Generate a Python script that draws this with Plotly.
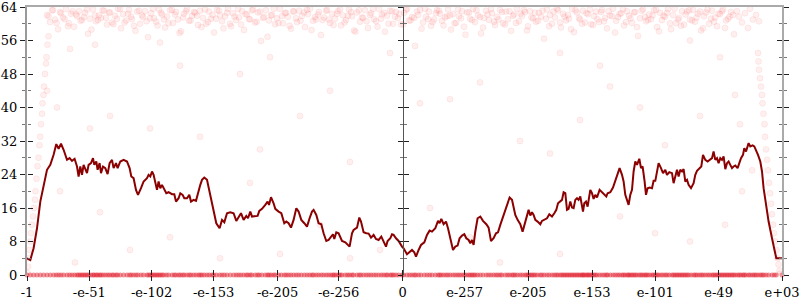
import plotly.graph_objects as go

# ---------------- data ----------------
tick_labels = ["-1", "-e-51", "-e-102", "-e-153", "-e-205", "-e-256", "0",
               "e-257", "e-205", "e-153", "e-101", "e-49", "e+03"]
tick_pos = [0, 62.3, 124.6, 186.6, 250.6, 311.6, 375.6, 437.6, 501, 565, 628.3, 691.6, 755]
y_ticks = [0, 8, 16, 24, 32, 40, 48, 56, 64]

# moving average line (x in axis units, y = bits)
avg_points = [
    (0, 3.99), (3.3, 3.59), (6.6, 6.38), (10, 11.16), (13.3, 17.54), (16.6, 21.53), (20, 25.12),
    (23.3, 26.31), (26.6, 28.7), (29.3, 31.26), (31.6, 30.14), (34, 31.34), (36.6, 29.9), (40, 27.5),
    (42.6, 27.9), (45, 27.27), (47.6, 27.75), (50, 25.91), (51.6, 23.52), (53.3, 25.91), (55, 23.92),
    (56.6, 26.31), (58.3, 25.12), (60, 24.32), (61.6, 26.31), (64, 26.71), (66, 27.9), (67.3, 26.31),
    (69.3, 27.11), (70.6, 25.12), (72.6, 26.71), (74, 24.32), (76, 25.91), (78.3, 25.52), (80.6, 24.08),
    (82.6, 26.71), (85, 27.5), (86.6, 25.52), (89, 26.71), (90.6, 25.52), (93.3, 27.11), (96.6, 27.5),
    (100, 27.11), (102.6, 25.52), (104.3, 23.52), (106.6, 23.12), (109, 20.33), (111, 19.14), (114, 20.73),
    (116.6, 22.33), (120, 23.12), (121.6, 23.92), (123.3, 23.52), (125, 24.72), (126.6, 23.92),
    (128.3, 22.33), (130, 20.33), (131.6, 22.33), (133.3, 20.73), (135, 21.53), (136.6, 20.73),
    (139.3, 19.53), (141.6, 19.77), (145, 19.3), (147.3, 19.3), (149, 17.54), (151.6, 18.34),
    (153.3, 19.53), (155.6, 19.14), (157.3, 18.34), (160, 18.34), (162.3, 19.14), (164, 17.54),
    (166.6, 17.94), (169, 17.7), (171.6, 20.33), (173.3, 21.53), (175, 22.72), (177.3, 23.28),
    (180, 22.72), (182.3, 20.33), (185, 17.54), (186.6, 15.95), (189.3, 12.36), (192.6, 11.16),
    (195, 13.16), (197.3, 12.6), (200, 14.75), (203.3, 14.99), (206.6, 14.75), (209.3, 12.92),
    (211.6, 13.71), (214, 14.75), (216.6, 13.16), (219.3, 14.11), (221, 13.55), (223.3, 15.15),
    (225, 13.95), (228.3, 13.95), (230.6, 14.11), (232.3, 15.31), (235, 15.79), (238.3, 16.74),
    (240.6, 17.54), (242, 16.74), (244, 18.58), (246.6, 17.14), (248.3, 15.79), (251.6, 15.15),
    (254.3, 14.75), (257.3, 12.36), (259.3, 12.76), (261.6, 12.36), (264, 11.32), (266.6, 13.16),
    (269.3, 15.95), (271.6, 15.15), (274.3, 13.16), (277.3, 12.36), (280, 11.56), (282.6, 13.55),
    (285, 15.15), (286.6, 15.55), (289.3, 14.35), (291.6, 12.36), (294.3, 12.12), (296.6, 9.97),
    (299.3, 8.13), (301.6, 8.37), (304, 9.17), (306, 9.73), (307.3, 8.61), (309.3, 10.2), (311.6, 9.97),
    (313.3, 9.17), (315, 8.13), (318.3, 7.81), (320.6, 7.17), (322.6, 6.78), (325, 9.97), (326.6, 10.76),
    (330, 11.32), (332.3, 13.71), (334, 12.76), (336.6, 10.2), (339.3, 9.97), (341.6, 9.89), (344, 8.93),
    (346.6, 9.57), (349, 8.61), (351.6, 8.37), (354.3, 9.17), (356.6, 7.81), (359, 6.78), (360.6, 8.13),
    (363.3, 8.77), (365, 9.73), (366.6, 9.57), (369, 8.77), (371.6, 8.13), (375, 6.78), (376.6, 6.38),
    (380, 4.94), (382.6, 5.58), (385, 5.98), (387.3, 5.42), (389, 4.38), (391.6, 5.98), (394, 7.17),
    (397.3, 7.81), (400, 9.57), (402.6, 10.6), (405, 10.36), (408.3, 11.16), (411, 12.92), (412.6, 12.36),
    (414.3, 13.39), (416.6, 12.12), (419, 12.76), (421, 11.16), (423.3, 8.77), (426, 5.98), (428.3, 6.78),
    (430.6, 7.02), (432.6, 8.77), (435, 9.41), (437.3, 9.73), (439.3, 8.77), (441.6, 8.37), (443.3, 7.57),
    (445, 8.37), (446.6, 7.17), (448.3, 10.36), (450.6, 13.55), (453.3, 13.95), (456, 12.92),
    (459.3, 12.12), (461.6, 11.32), (464, 8.13), (466.6, 8.77), (469, 9.97), (471, 10.2), (473.3, 11.96),
    (475, 13.16), (478.3, 15.55), (480.6, 16.74), (482.6, 18.5), (485, 17.94), (486.6, 16.34),
    (488.3, 14.35), (490.6, 13.16), (493.3, 12.12), (495.6, 10.36), (498.3, 12.76), (500, 13.95),
    (501.6, 15.55), (503.3, 14.19), (505, 14.99), (506.6, 14.35), (508.3, 13.16), (510.6, 12.76),
    (513.3, 12.12), (515, 12.92), (517.3, 13.16), (520, 13.55), (522.3, 14.51), (525, 13.95),
    (527.3, 14.75), (529.3, 15.55), (531, 17.14), (533.3, 17.54), (535, 17.94), (536.6, 19.77),
    (538.3, 19.53), (540, 15.55), (541.6, 15.79), (543.3, 17.54), (545, 16.1), (546.6, 15.95),
    (548.3, 17.94), (550, 18.34), (551.6, 17.94), (553.3, 18.74), (555, 16.74), (556, 15.15),
    (557.3, 17.14), (559, 17.54), (560.6, 16.34), (561.6, 17.94), (563.3, 20.33), (565, 19.53),
    (566.6, 18.18), (568.3, 19.14), (570, 18.5), (572.6, 20.33), (575, 19.77), (577.3, 19.14),
    (579.3, 18.74), (580.6, 19.53), (583.3, 19.77), (586, 20.89), (588.3, 22.33), (590.6, 24.08),
    (592.6, 25.52), (595, 23.92), (596.6, 22.33), (598.3, 19.14), (600.6, 17.54), (601.6, 16.74),
    (603.3, 19.14), (605, 20.33), (606.6, 24.72), (608.3, 27.11), (610, 26.31), (612.3, 27.75),
    (614, 25.52), (615.6, 25.91), (617.6, 22.33), (619, 19.14), (620.6, 20.73), (622.6, 20.89),
    (625, 20.73), (626.6, 22.49), (628.3, 22.49), (630, 24.72), (631.6, 26.71), (634, 25.52),
    (636, 24.32), (638.3, 25.12), (640, 23.92), (642.3, 24.56), (645, 24.32), (646.6, 21.93),
    (648.3, 23.92), (650, 25.12), (651.6, 23.52), (653.3, 25.12), (655, 24.72), (656.6, 25.28),
    (658.3, 22.33), (660, 22.72), (661.6, 21.53), (664, 20.73), (666.6, 21.93), (668.3, 23.92),
    (670, 24.88), (672.3, 25.52), (674.3, 25.91), (676, 28.7), (678.3, 27.5), (680.6, 27.11),
    (682.6, 27.5), (685, 27.9), (686.6, 29.5), (688.3, 27.5), (690, 27.9), (691.6, 26.71), (693.3, 27.9),
    (695, 27.5), (696.6, 28.31), (698.3, 25.28), (700, 26.71), (701.6, 27.11), (703.3, 26.31),
    (705, 25.52), (706.6, 25.91), (708.3, 26.15), (710.6, 25.52), (712.3, 26.71), (714, 27.9),
    (716, 28.7), (717.3, 30.3), (719, 29.5), (721.6, 31.5), (723.3, 30.7), (725.6, 30.94), (727.3, 30.7),
    (729, 29.9), (731, 28.7), (733.3, 27.11), (735, 24.72), (736.6, 20.73), (739, 16.74), (741.6, 12.76),
    (745, 8.77), (747.3, 5.98), (749.3, 3.99), (755, 3.99),
]
avg_x = [p[0] for p in avg_points]
avg_y = [p[1] for p in avg_points]

# samples that scored zero (one per averaging position)
zero_x = avg_x
zero_y = [0] * len(zero_x)

# samples near the top of the range
top_x = [20, 23, 25, 28, 31, 33, 36, 39, 42, 44, 47, 50, 52, 55, 58, 61, 63, 66, 69, 72, 74, 77, 80, 83,
         85, 88, 91, 94, 96, 99, 102, 105, 107, 110, 113, 116, 118, 121, 124, 127, 129, 132, 135, 138,
         140, 143, 146, 149, 151, 154, 157, 160, 162, 165, 168, 171, 173, 176, 179, 182, 184, 187, 190,
         193, 195, 198, 201, 204, 206, 209, 212, 215, 217, 220, 223, 226, 228, 231, 234, 237, 239, 242,
         245, 248, 250, 253, 256, 259, 261, 264, 267, 270, 272, 275, 278, 281, 283, 286, 289, 292, 294,
         297, 300, 303, 305, 308, 311, 314, 316, 319, 322, 325, 327, 330, 333, 336, 338, 341, 344, 347,
         349, 352, 355, 358, 360, 363, 366, 369, 371, 374, 377, 380, 382, 385, 388, 391, 393, 396, 399,
         402, 404, 407, 410, 413, 415, 418, 421, 424, 426, 429, 432, 435, 437, 440, 443, 446, 448, 451,
         454, 457, 459, 462, 465, 468, 470, 473, 476, 479, 481, 484, 487, 490, 492, 495, 498, 501, 503,
         506, 509, 512, 514, 517, 520, 523, 525, 528, 531, 534, 536, 539, 542, 545, 547, 550, 553, 556,
         558, 561, 564, 567, 569, 572, 575, 578, 580, 583, 586, 589, 591, 594, 597, 600, 602, 605, 608,
         611, 613, 616, 619, 622, 624, 627, 630, 633, 635, 638, 641, 644, 646, 649, 652, 655, 657, 660,
         663, 666, 668, 671, 674, 677, 679, 682, 685, 688, 690, 693, 696, 699, 701, 704, 707, 710, 712,
         715, 718, 721, 723, 726, 729, 732]
top_y = [62.1, 60.4, 63.2, 61.0, 58.7, 62.8, 61.5, 63.5, 60.1, 62.4, 59.3, 61.8, 63.0, 60.9, 62.6, 57.6, 61.2, 63.4, 60.6, 62.0,
         61.4, 63.1, 59.8, 62.7, 60.3, 61.9, 63.6, 58.9, 62.3, 60.8, 63.3, 61.1, 59.5, 62.9, 60.0, 61.6, 63.0, 56.8, 62.5, 61.3,
         60.5, 63.4, 62.2, 59.1, 61.7, 63.2, 60.2, 62.8, 61.0, 58.2, 62.4, 63.5, 60.7, 61.9, 62.6, 59.7, 63.1, 61.4, 60.0, 62.9,
         61.2, 57.9, 63.3, 62.0, 60.6, 61.8, 63.6, 59.4, 62.5, 60.9, 61.5, 63.0, 58.5, 62.2, 61.1, 63.4, 60.3, 62.7, 55.9, 61.6,
         63.2, 60.8, 62.1, 59.9, 61.3, 63.5, 60.1, 62.6, 61.7, 58.8, 62.9, 60.4, 63.1, 61.9, 59.2, 62.3, 63.6, 60.7, 61.0, 62.8,
         57.3, 61.5, 63.3, 60.2, 62.4, 61.2, 63.0, 59.6, 62.0, 60.9, 63.4, 61.8, 58.4, 62.7, 60.5, 61.4, 63.2, 59.0, 62.5, 61.1,
         60.6, 63.5, 62.2, 58.1, 61.9, 63.1, 60.0, 62.8, 61.3, 59.8, 62.6, 63.6, 60.8, 61.6, 54.7, 62.1, 63.3, 60.3, 61.7, 62.9,
         59.5, 61.0, 63.2, 62.4, 60.7, 61.5, 63.4, 58.6, 62.3, 60.2, 61.8, 63.0, 59.3, 62.7, 61.2, 63.5, 60.4, 62.0, 57.7, 61.4,
         63.1, 60.9, 62.5, 59.7, 61.6, 63.3, 60.1, 62.9, 61.1, 58.3, 62.2, 63.6, 60.6, 61.9, 62.8, 59.4, 63.0, 61.3, 60.5, 62.6,
         61.7, 56.4, 63.4, 62.1, 60.0, 61.5, 63.2, 59.1, 62.4, 60.8, 61.2, 63.5, 58.0, 62.7, 61.0, 63.1, 60.3, 62.3, 59.9, 61.8,
         62.9, 60.4, 63.3, 61.4, 58.9, 62.0, 63.6, 60.7, 61.6, 62.5, 59.6, 63.0, 61.9, 60.2, 62.8, 57.1, 61.3, 63.4, 60.6, 62.2,
         61.1, 63.2, 59.2, 62.6, 60.9, 61.7, 63.5, 58.7, 62.1, 60.1, 61.4, 63.0, 59.8, 62.9, 61.0, 63.3, 60.5, 62.4, 58.4, 61.8,
         62.7, 60.0, 63.1, 61.5, 59.4, 62.3, 63.4, 60.8, 61.2, 62.8, 57.5, 63.0, 61.7, 60.3, 62.5, 59.0, 63.6, 61.0, 62.1, 60.6]

# a second batch of top samples, interleaved with the first
top2_x = [21.5, 26, 29.5, 34, 37.5, 41, 45.5, 49, 53.5, 57, 60, 64.5, 68, 71, 75.5, 79, 82, 86.5, 90, 93,
          97.5, 101, 104, 108.5, 112, 115, 119.5, 123, 126, 130.5, 134, 137, 141.5, 145, 148, 152.5, 156,
          159, 163.5, 167, 170, 174.5, 178, 181, 185.5, 189, 192, 196.5, 200, 203, 207.5, 211, 214, 218.5,
          222, 225, 229.5, 233, 236, 240.5, 244, 247, 251.5, 255, 258, 262.5, 266, 269, 273.5, 277, 280,
          284.5, 288, 291, 295.5, 299, 302, 306.5, 310, 313, 317.5, 321, 324, 328.5, 332, 335, 339.5, 343,
          346, 350.5, 354, 357, 361.5, 365, 368, 372.5, 376, 379, 383.5, 387, 390, 394.5, 398, 401, 405.5,
          409, 412, 416.5, 420, 423, 427.5, 431, 434, 438.5, 442, 445, 449.5, 453, 456, 460.5, 464, 467,
          471.5, 475, 478, 482.5, 486, 489, 493.5, 497, 500, 504.5, 508, 511, 515.5, 519, 522, 526.5, 530,
          533, 537.5, 541, 544, 548.5, 552, 555, 559.5, 563, 566, 570.5, 574, 577, 581.5, 585, 588, 592.5,
          596, 599, 603.5, 607, 610, 614.5, 618, 621, 625.5, 629, 632, 636.5, 640, 643, 647.5, 651, 654,
          658.5, 662, 665, 669.5, 673, 676, 680.5, 684, 687, 691.5, 695, 698, 702.5, 706, 709, 713.5, 717,
          720, 724.5, 728, 731]
top2_y = [61.8, 63.3, 60.2, 62.5, 61.1, 59.4, 63.0, 62.2, 60.7, 61.6, 63.4, 58.6, 62.0, 60.9, 63.2, 61.4, 62.7, 59.9, 61.2, 63.5,
          60.3, 62.4, 61.7, 58.3, 63.1, 62.0, 60.6, 61.3, 63.6, 59.6, 62.6, 61.0, 60.1, 63.3, 62.2, 57.8, 61.5, 63.0, 60.8, 62.8,
          61.9, 59.2, 63.4, 60.4, 62.1, 61.2, 63.1, 58.9, 62.6, 60.0, 61.7, 63.5, 59.8, 62.3, 61.1, 63.2, 60.5, 62.9, 61.4, 56.9,
          62.0, 63.6, 60.2, 61.8, 62.5, 59.5, 63.0, 61.3, 60.7, 62.7, 63.3, 58.5, 61.6, 62.2, 60.9, 63.1, 61.0, 59.7, 62.4, 63.4,
          60.3, 61.9, 62.8, 58.1, 63.2, 61.5, 60.6, 62.1, 63.5, 59.3, 61.2, 62.6, 60.0, 63.0, 61.7, 62.3, 59.9, 63.3, 60.8, 61.4,
          62.9, 58.8, 63.6, 61.1, 60.4, 62.5, 63.1, 59.6, 61.8, 62.0, 60.1, 63.4, 61.3, 57.4, 62.7, 60.9, 63.2, 61.6, 59.1, 62.2,
          63.5, 60.5, 61.0, 62.8, 59.8, 63.0, 61.9, 60.2, 62.4, 63.3, 58.4, 61.5, 62.6, 60.7, 63.1, 61.2, 59.4, 62.9, 63.6, 60.3,
          61.7, 62.1, 58.7, 63.2, 61.4, 60.0, 62.5, 63.4, 59.7, 61.1, 62.8, 60.6, 63.0, 61.8, 57.9, 62.3, 63.5, 60.4, 61.3, 62.7,
          59.2, 63.1, 61.6, 60.9, 62.0, 63.3, 58.2, 61.9, 62.6, 60.1, 63.6, 61.0, 59.5, 62.2, 63.2, 60.8, 61.5, 62.9, 58.9, 63.4,
          61.2, 60.5, 62.4, 63.0, 59.0, 61.7, 62.1]

# transition samples at both ends
left_streak_x = [0.5, 1, 1.5, 2.5, 3.3, 4, 5, 6, 7, 8, 8.5, 9.5, 10.5, 11.5, 12.5, 13.2, 14, 15, 15.5, 16.5,
                 17, 18, 19, 19.5, 20.5, 21.5]
left_streak_y = [0.5, 2, 4, 6, 8, 10, 12, 14, 16, 18, 20, 23, 26, 28, 31, 33, 36, 38.5, 41, 43, 45, 48, 50.5,
                 52, 55, 57]
right_streak_x = [731, 731.5, 732, 733, 734, 735, 735.5, 736.5, 737.5, 738, 739, 740, 741, 742, 743, 744, 745,
                  746, 747, 748, 749.5, 750.5, 751.5, 752.5, 753]
right_streak_y = [53, 51, 49, 47, 45, 43, 41, 38.5, 36, 33, 30, 27.5, 25, 22, 19.5, 17, 14.5, 12, 10, 8, 6, 4,
                  2.5, 1, 0.3]

# scattered outlier samples
sparse_x = [43, 68, 133, 153, 213, 303, 273, 83, 123, 173, 233, 323, 393, 423, 453, 493, 523, 553, 583, 613,
            638, 673, 708, 713, 698, 663, 628, 593, 533, 473, 443, 403, 353, 323, 293, 253, 223, 193, 143, 103,
            73, 48, 33, 63, 243, 363, 533, 663, 573, 693, 20, 30, 715, 725]
sparse_y = [54, 55, 55.5, 50, 48, 44, 38, 38, 35, 33, 30, 27, 41, 42, 46, 32, 29, 37, 45, 40,
            31, 38, 43, 36, 12, 8, 10, 14, 5, 3, 9, 16, 6, 4, 12, 5, 22, 4, 9, 6,
            15, 3, 20, 35, 52, 53, 53, 56, 50, 52, 44, 40, 20, 25]

# ---------------- figure ----------------
pt_fill = "rgba(255,40,40,0.075)"
pt_edge = "rgba(240,40,40,0.07)"
pt_marker = dict(size=6, color=pt_fill, line=dict(width=1, color=pt_edge))

fig = go.Figure()
fig.add_trace(go.Scatter(x=zero_x, y=zero_y, mode="markers", cliponaxis=False, hoverinfo="skip",
                         marker=dict(size=5, color="rgba(225,25,40,0.45)", line=dict(width=0))))
for sx, sy in ((top_x, top_y), (top2_x, top2_y), (left_streak_x, left_streak_y),
               (right_streak_x, right_streak_y), (sparse_x, sparse_y)):
    fig.add_trace(go.Scatter(x=sx, y=sy, mode="markers", hoverinfo="skip", marker=pt_marker))
fig.add_trace(go.Scatter(x=avg_x, y=avg_y, mode="lines", hoverinfo="skip",
                         line=dict(color="#8b0000", width=2)))

# empty traces so that the helper axes exist
for xa, ya in (("x2", "y"), ("x3", "y"), ("x", "y2"), ("x", "y3"), ("x", "y4"), ("x", "y5"), ("x", "y6")):
    fig.add_trace(go.Scatter(x=[None], y=[None], xaxis=xa, yaxis=ya, mode="lines", hoverinfo="skip"))

xr = [0, 755]
yr = [0, 64]
common = dict(showgrid=False, zeroline=False, automargin=False)
major = dict(ticklen=5, tickwidth=1, tickcolor="#222")
minor_out = dict(ticks="outside", dtick=4, tick0=0, ticklen=3, tickcolor="#777", showgrid=False)
minor_in = dict(ticks="inside", dtick=4, tick0=0, ticklen=3, tickcolor="#777", showgrid=False)
mid_pos = tick_pos[6] / xr[1]

fig.update_layout(
    template="none",
    width=800, height=300,
    margin=dict(l=26.7, r=18.3, t=7.3, b=25, pad=0),
    plot_bgcolor="white", paper_bgcolor="white",
    showlegend=False,
    font=dict(family="'DejaVu Serif', 'Liberation Serif', serif", size=13, color="black"),
    xaxis=dict(range=xr, tickmode="array", tickvals=tick_pos, ticktext=tick_labels, ticks="outside",
               showline=False, ticklabeloverflow="allow", **common, **major),
    xaxis2=dict(range=xr, overlaying="x", anchor="y", tickmode="array", tickvals=tick_pos, ticks="inside",
                showticklabels=False, showline=False, **common, **major),
    xaxis3=dict(range=xr, overlaying="x", anchor="y", side="top", ticks="", showticklabels=False,
                showline=True, linecolor="#aaaaaa", linewidth=2, **common),
    yaxis=dict(range=yr, tickmode="array", tickvals=y_ticks, ticks="outside", minor=minor_out,
               ticklabeloverflow="allow",
               showline=True, linecolor="#999999", linewidth=2, **common, **major),
    yaxis2=dict(range=yr, overlaying="y", anchor="free", position=0, side="left", tickmode="array",
                tickvals=y_ticks, ticks="inside", minor=minor_in, showticklabels=False, showline=False,
                **common, **major),
    yaxis3=dict(range=yr, overlaying="y", anchor="free", position=mid_pos, side="left", tickmode="array",
                tickvals=y_ticks, ticks="outside", minor=minor_out, showticklabels=False, showline=True,
                linecolor="#555555", linewidth=1, **common, **major),
    yaxis4=dict(range=yr, overlaying="y", anchor="free", position=mid_pos, side="left", tickmode="array",
                tickvals=y_ticks, ticks="inside", minor=minor_in, showticklabels=False, showline=False,
                **common, **major),
    yaxis5=dict(range=yr, overlaying="y", anchor="x", side="right", tickmode="array",
                tickvals=y_ticks, ticks="outside", minor=minor_out, showticklabels=False, showline=True,
                linecolor="#aaaaaa", linewidth=2, **common, **major),
    yaxis6=dict(range=yr, overlaying="y", anchor="x", side="right", tickmode="array",
                tickvals=y_ticks, ticks="inside", minor=minor_in, showticklabels=False, showline=False,
                **common, **major),
)

fig.write_html("out.html")
